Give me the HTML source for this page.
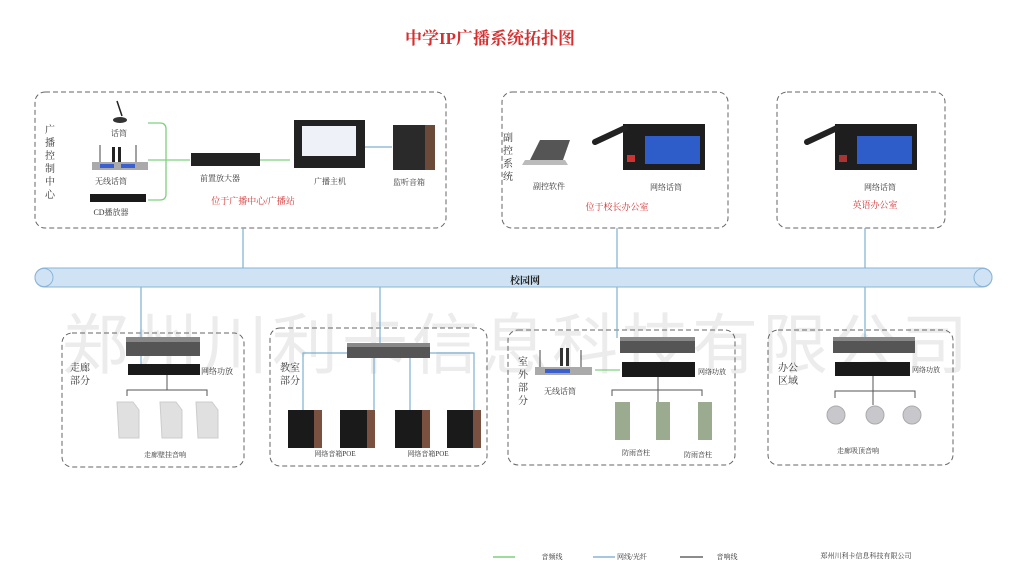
<!DOCTYPE html>
<html><head><meta charset="utf-8"><style>
body{margin:0;width:1020px;height:585px;background:#fff;overflow:hidden;position:relative;font-family:"Liberation Serif","Noto Serif CJK SC",serif}
.t{position:absolute;white-space:nowrap;transform:translateX(-50%);font-size:8px;color:#333}
.v{position:absolute;font-size:10px;color:#333;line-height:13px;width:12px}
.r{color:#d43030;font-size:9px}
.wm{position:absolute;left:62px;top:292px;font-family:"Liberation Sans","Noto Sans CJK SC",sans-serif;font-size:66px;color:#ececec;letter-spacing:4px;white-space:nowrap}
</style></head><body>
<div class="wm">郑州川利卡信息科技有限公司</div>
<svg width="1020" height="585" style="position:absolute;left:0;top:0">
<g fill="none" stroke="#666" stroke-width="1" stroke-dasharray="5,3">
<rect x="35" y="92" width="411" height="136" rx="10"/>
<rect x="502" y="92" width="226" height="136" rx="10"/>
<rect x="777" y="92" width="168" height="136" rx="10"/>
<rect x="62" y="333" width="182" height="134" rx="10"/>
<rect x="270" y="328" width="217" height="138" rx="10"/>
<rect x="508" y="330" width="227" height="135" rx="10"/>
<rect x="768" y="330" width="185" height="135" rx="10"/>
</g>
<g stroke="#7fb0d0" stroke-width="1.2" fill="none">
<line x1="243" y1="228" x2="243" y2="269"/><line x1="617" y1="228" x2="617" y2="269"/><line x1="865" y1="228" x2="865" y2="269"/>
<line x1="141" y1="287" x2="141" y2="338"/><line x1="380" y1="287" x2="380" y2="346"/><line x1="617" y1="287" x2="617" y2="338"/><line x1="865" y1="287" x2="865" y2="338"/>
<line x1="365" y1="147" x2="392" y2="147"/>
<polyline points="303,410 303,353 474,353 474,410"/>
<line x1="374" y1="353" x2="374" y2="410"/><line x1="410" y1="353" x2="410" y2="410"/>
<line x1="141" y1="356" x2="141" y2="364"/>
</g>
<rect x="35" y="268" width="957" height="19" rx="9.5" fill="#cfe3f5" stroke="#8ab4d8"/>
<circle cx="44" cy="277.5" r="9" fill="#cfe3f5" stroke="#8ab4d8"/><circle cx="983" cy="277.5" r="9" fill="#cfe3f5" stroke="#8ab4d8"/>
<g stroke="#7ed07e" stroke-width="1.3" fill="none">
<path d="M148,123 H160 Q166,123 166,129 V194 Q166,200 160,200 H148"/>
<line x1="148" y1="160" x2="190" y2="160"/><line x1="260" y1="160" x2="290" y2="160"/>
<line x1="595" y1="370" x2="620" y2="370"/>
</g>
<g stroke="#555" stroke-width="1" fill="none">
<path d="M127,396 V390 H207 V396"/><line x1="167" y1="375" x2="167" y2="390"/>
<path d="M612,396 V390 H702 V396"/><line x1="658" y1="377" x2="658" y2="402"/>
<path d="M835,398 V391 H915 V398"/><line x1="873" y1="376" x2="873" y2="405"/>
</g>
<!-- box1 devices -->
<line x1="117" y1="101" x2="122" y2="116" stroke="#222" stroke-width="1.5"/><ellipse cx="120" cy="120" rx="7" ry="3" fill="#333"/>
<g stroke="#444"><line x1="100" y1="145" x2="100" y2="163"/><line x1="136" y1="145" x2="136" y2="163"/></g>
<rect x="112" y="147" width="3" height="15" fill="#222"/><rect x="118" y="147" width="3" height="15" fill="#222"/>
<rect x="92" y="162" width="56" height="8" fill="#aaa"/><rect x="100" y="164" width="14" height="4" fill="#3a5fd0"/><rect x="121" y="164" width="14" height="4" fill="#3a5fd0"/>
<rect x="90" y="194" width="56" height="8" fill="#1a1a1a"/>
<rect x="191" y="153" width="69" height="13" fill="#222"/>
<rect x="294" y="120" width="71" height="48" fill="#222"/><rect x="302" y="126" width="54" height="30" fill="#eef2f8"/>
<rect x="393" y="125" width="42" height="45" fill="#2a2a2a"/><rect x="425" y="125" width="10" height="45" fill="#6b4a3a"/>
<!-- box2/3 -->
<path d="M530,160 L540,140 L570,140 L563,160 Z" fill="#555"/><path d="M525,160 H565 L568,165 H522 Z" fill="#bbb"/>
<rect x="623" y="124" width="82" height="46" fill="#1e1e1e"/><rect x="645" y="136" width="55" height="28" fill="#2e5cc8"/><rect x="627" y="155" width="8" height="7" fill="#c33"/>
<line x1="595" y1="142" x2="625" y2="128" stroke="#222" stroke-width="6" stroke-linecap="round"/>
<rect x="835" y="124" width="82" height="46" fill="#1e1e1e"/><rect x="857" y="136" width="55" height="28" fill="#2e5cc8"/><rect x="839" y="155" width="8" height="7" fill="#a33"/>
<line x1="807" y1="142" x2="837" y2="128" stroke="#222" stroke-width="6" stroke-linecap="round"/>
<!-- bottom devices -->
<g fill="#555"><rect x="126" y="337" width="74" height="19"/><rect x="347" y="343" width="83" height="15"/><rect x="620" y="337" width="75" height="16"/><rect x="833" y="337" width="82" height="16"/></g>
<g fill="#888"><rect x="126" y="337" width="74" height="5"/><rect x="347" y="343" width="83" height="4"/><rect x="620" y="337" width="75" height="4"/><rect x="833" y="337" width="82" height="4"/></g>
<g fill="#1a1a1a"><rect x="128" y="364" width="72" height="11"/><rect x="622" y="362" width="73" height="15"/><rect x="835" y="362" width="75" height="14"/></g>
<g fill="#e0e0e0" stroke="#ccc"><path d="M117,402 h16 l6,8 v28 h-20 z"/><path d="M160,402 h16 l6,8 v28 h-20 z"/><path d="M196,402 h16 l6,8 v28 h-20 z"/></g>
<g><rect x="288" y="410" width="34" height="38" fill="#1a1a1a"/><rect x="314" y="410" width="8" height="38" fill="#7a5040"/>
<rect x="340" y="410" width="35" height="38" fill="#1a1a1a"/><rect x="367" y="410" width="8" height="38" fill="#7a5040"/>
<rect x="395" y="410" width="35" height="38" fill="#1a1a1a"/><rect x="422" y="410" width="8" height="38" fill="#7a5040"/>
<rect x="447" y="410" width="34" height="38" fill="#1a1a1a"/><rect x="473" y="410" width="8" height="38" fill="#7a5040"/></g>
<g stroke="#444"><line x1="540" y1="350" x2="540" y2="368"/><line x1="581" y1="350" x2="581" y2="368"/></g>
<rect x="560" y="348" width="3" height="18" fill="#333"/><rect x="566" y="348" width="3" height="18" fill="#333"/>
<rect x="535" y="367" width="57" height="8" fill="#aaa"/><rect x="545" y="369" width="25" height="4" fill="#3a5fd0"/>
<g fill="#9bab90"><rect x="615" y="402" width="15" height="38"/><rect x="656" y="402" width="14" height="38"/><rect x="698" y="402" width="14" height="38"/></g>
<g fill="#c8c8cc" stroke="#aaa"><circle cx="836" cy="415" r="9"/><circle cx="875" cy="415" r="9"/><circle cx="912" cy="415" r="9"/></g>
<g stroke-width="1.5"><line x1="493" y1="557" x2="515" y2="557" stroke="#7ed07e"/><line x1="593" y1="557" x2="615" y2="557" stroke="#8ab4d8"/><line x1="680" y1="557" x2="703" y2="557" stroke="#666"/></g>
</svg>
<div class="t" style="left:490px;top:24px;font-size:17px;color:#d43030;font-weight:bold">中学IP广播系统拓扑图</div>
<div class="v" style="left:45px;top:124px">广播控制中心</div>
<div class="t" style="left:119px;top:128px">话筒</div>
<div class="t" style="left:111px;top:176px">无线话筒</div>
<div class="t" style="left:111px;top:207px">CD播放器</div>
<div class="t" style="left:220px;top:173px">前置放大器</div>
<div class="t" style="left:330px;top:176px">广播主机</div>
<div class="t" style="left:409px;top:177px">监听音箱</div>
<div class="t r" style="left:253px;top:194px">位于广播中心/广播站</div>
<div class="v" style="left:503px;top:132px">副控系统</div>
<div class="t" style="left:549px;top:181px">副控软件</div>
<div class="t" style="left:666px;top:182px">网络话筒</div>
<div class="t r" style="left:617px;top:200px">位于校长办公室</div>
<div class="t" style="left:880px;top:182px">网络话筒</div>
<div class="t r" style="left:875px;top:198px">英语办公室</div>
<div class="t" style="left:525px;top:272px;font-size:10px;font-weight:bold;color:#222">校园网</div>
<div class="v" style="left:70px;top:362px;width:24px">走廊部分</div>
<div class="t" style="left:217px;top:366px">网络功放</div>
<div class="t" style="left:165px;top:450px;font-size:7px">走廊壁挂音响</div>
<div class="v" style="left:280px;top:362px;width:24px">教室部分</div>
<div class="t" style="left:335px;top:449px;font-size:7px">网络音箱POE</div>
<div class="t" style="left:428px;top:449px;font-size:7px">网络音箱POE</div>
<div class="v" style="left:518px;top:356px">室外部分</div>
<div class="t" style="left:560px;top:386px">无线话筒</div>
<div class="t" style="left:712px;top:367px;font-size:7px">网络功放</div>
<div class="t" style="left:636px;top:448px;font-size:7px">防雨音柱</div>
<div class="t" style="left:698px;top:450px;font-size:7px">防雨音柱</div>
<div class="v" style="left:778px;top:362px;width:24px">办公区域</div>
<div class="t" style="left:926px;top:365px;font-size:7px">网络功放</div>
<div class="t" style="left:858px;top:446px;font-size:7px">走廊吸顶音响</div>
<div class="t" style="left:552px;top:552px;font-size:7px">音频线</div>
<div class="t" style="left:632px;top:552px;font-size:7px">网线/光纤</div>
<div class="t" style="left:727px;top:552px;font-size:7px">音响线</div>
<div class="t" style="left:866px;top:551px;font-size:7px">郑州川利卡信息科技有限公司</div>
</body></html>
